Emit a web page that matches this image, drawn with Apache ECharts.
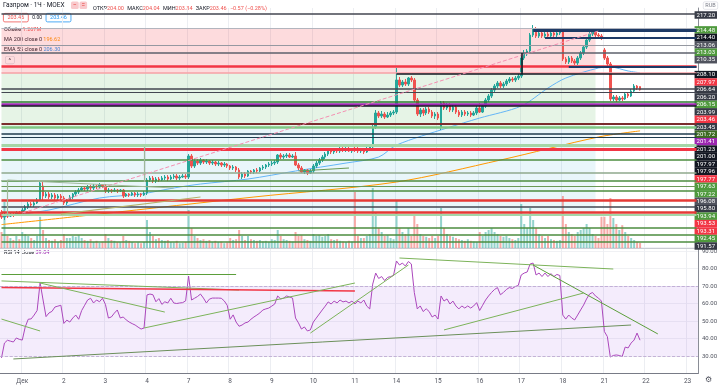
<!DOCTYPE html>
<html><head><meta charset="utf-8">
<script src="https://cdn.jsdelivr.net/npm/echarts@6/dist/echarts.min.js"></script>
<style>html,body{margin:0;padding:0;background:#fff}#c{width:720px;height:388px}</style>
</head><body><div id="c"></div>
<script>
// ---- DATA ----
// candles: [open, close, low, high], hourly bars 30 Nov – 21 Dec
const candles = [
[183.10,182.26,181.93,183.43],[182.26,182.60,181.76,182.93],[182.60,182.43,182.10,182.93],[182.43,182.76,182.26,183.10],[182.76,182.60,182.26,183.10],[182.60,182.93,182.43,183.26],[182.93,182.76,182.43,183.26],
[182.76,183.43,182.60,183.76],[183.43,183.93,183.26,184.26],[183.93,184.43,183.60,184.76],[184.43,184.26,183.93,184.76],[184.26,184.60,183.93,184.93],[184.60,185.10,184.43,185.43],[185.10,187.93,184.93,188.43],[187.43,185.76,185.10,188.10],[185.76,186.10,185.43,186.43],[186.10,185.60,185.26,186.43],[185.60,185.93,185.26,186.26],[185.93,185.43,185.10,186.26],[185.43,185.76,185.10,186.10],[185.76,185.43,185.10,186.10],
[185.43,184.60,184.26,185.76],[184.60,185.10,184.26,185.26],[185.10,185.60,184.93,185.93],[185.60,186.10,185.26,186.26],[186.10,186.43,185.76,186.76],[186.43,186.76,186.10,187.10],[186.76,187.10,186.60,187.43],[187.10,186.93,186.60,187.43],[186.93,187.26,186.60,187.60],[187.26,187.10,186.76,187.60],[187.10,187.43,186.76,187.76],[187.43,187.26,186.93,187.60],[187.26,187.60,186.93,187.93],[187.60,187.43,187.10,187.76],
[187.43,186.60,186.26,187.76],[186.60,186.76,186.26,187.10],[186.76,186.60,186.26,186.93],[186.60,186.76,186.43,187.10],[186.76,186.60,186.26,186.93],[186.60,186.76,186.43,186.93],[186.76,185.76,185.43,186.93],[185.76,186.10,185.60,186.26],[186.10,185.93,185.60,186.26],[185.93,186.26,185.76,186.43],[186.26,185.93,185.60,186.43],[185.93,186.10,185.60,186.43],[186.10,185.93,185.60,186.26],[185.93,186.26,185.76,186.60],
[186.26,188.43,185.93,188.76],[188.43,188.76,188.10,189.10],[188.76,188.26,187.93,189.10],[188.26,188.60,187.93,188.93],[188.60,188.43,188.10,188.93],[188.43,188.76,188.26,189.10],[188.76,188.93,188.43,189.26],[188.93,188.60,188.26,189.26],[188.60,188.93,188.43,189.26],[188.93,189.10,188.60,189.43],[189.10,188.76,188.43,189.43],[188.76,188.93,188.43,189.26],[188.93,189.10,188.76,189.43],[189.10,188.93,188.60,189.43],
[188.93,192.43,188.60,192.76],[192.43,190.76,190.43,192.76],[190.76,191.60,190.43,191.93],[191.60,191.26,190.93,191.93],[191.26,191.76,190.93,192.10],[191.76,191.43,191.10,191.93],[191.43,191.60,191.10,191.93],[191.60,191.26,190.93,191.76],[191.26,191.43,190.93,191.76],[191.43,191.10,190.76,191.60],[191.10,191.26,190.76,191.60],[191.26,190.93,190.60,191.43],[190.93,191.10,190.60,191.43],[191.10,190.76,190.43,191.26],
[190.76,190.43,190.10,190.93],[190.43,190.60,190.10,190.93],[190.60,190.10,189.76,190.76],[190.10,188.93,188.60,190.43],[188.93,189.43,188.60,189.76],[189.43,189.10,188.76,189.76],[189.10,189.93,188.93,190.10],[189.93,189.76,189.43,190.10],[189.76,190.10,189.43,190.26],[190.10,189.93,189.60,190.43],[189.93,190.43,189.76,190.60],[190.43,190.60,190.10,190.93],[190.60,190.93,190.26,191.10],[190.93,191.10,190.60,191.43],
[191.10,191.26,190.76,191.60],[191.26,191.43,190.93,191.76],[191.43,192.60,191.10,192.76],[192.60,192.26,191.93,192.93],[192.26,192.43,191.93,192.76],[192.43,192.60,192.10,192.93],[192.60,192.26,192.10,192.93],[192.26,192.43,192.10,192.76],[192.43,190.93,190.76,193.10],[190.93,190.43,190.10,191.26],[190.43,189.76,189.60,190.76],[189.76,190.10,189.43,190.26],[190.10,189.60,189.26,190.26],[189.60,189.93,189.43,190.26],
[189.93,190.76,189.60,191.10],[190.76,191.26,190.43,191.60],[191.26,191.76,190.93,192.10],[191.76,192.26,191.43,192.60],[192.26,192.76,191.93,193.10],[192.76,193.26,192.43,193.60],[193.26,193.10,192.76,193.60],[193.10,193.43,192.76,193.76],[193.43,193.26,192.93,193.76],[193.26,193.60,192.93,193.93],[193.60,193.43,193.10,193.93],[193.43,193.60,193.10,193.93],[193.60,193.26,193.10,193.93],[193.26,193.60,192.93,193.76],
[193.60,193.43,193.10,193.93],[193.43,193.26,192.93,193.93],[193.26,193.43,192.93,193.76],[193.43,193.10,192.76,193.76],[193.10,193.60,192.93,193.93],[193.60,193.93,193.26,194.26],[193.93,197.26,193.60,197.60],[197.26,199.60,196.93,200.10],[199.60,199.10,198.76,199.93],[199.10,199.43,198.76,199.93],[199.43,198.93,198.60,199.76],[198.93,199.26,198.76,199.76],[199.26,199.60,198.93,199.93],[199.60,199.76,199.26,200.10],
[199.76,205.10,199.43,207.10],[205.10,204.26,203.93,205.60],[204.26,204.76,203.93,205.10],[204.76,204.43,204.10,205.26],[204.43,205.43,204.10,205.60],[205.43,205.10,204.76,205.76],[205.10,201.76,201.43,205.43],[201.76,199.43,199.10,202.10],[199.43,200.10,198.93,200.43],[200.10,199.60,199.10,200.43],[199.60,200.26,199.26,200.60],[200.26,199.76,199.43,200.60],[199.76,199.10,198.76,200.10],[199.10,199.43,198.60,199.76],
[199.43,198.76,198.43,199.76],[197.26,201.26,196.76,201.60],[201.26,200.43,200.10,201.60],[200.43,200.93,200.10,201.26],[200.93,200.10,199.76,201.26],[200.10,200.60,199.76,200.93],[200.60,199.76,199.43,200.93],[199.76,199.26,198.93,200.10],[199.26,199.76,198.93,200.10],[199.76,199.43,199.10,200.10],[199.43,199.60,199.10,199.93],[199.60,199.26,198.93,199.93],[199.26,199.60,199.10,199.93],[199.60,200.43,199.26,200.76],
[200.43,199.76,199.60,201.26],[199.76,200.76,199.60,201.10],[200.76,201.76,200.43,202.10],[201.76,202.43,201.43,202.76],[202.43,203.43,202.10,203.76],[203.43,204.10,203.10,204.43],[204.10,204.60,203.76,204.93],[204.60,204.10,203.76,204.93],[204.10,204.43,203.76,204.76],[204.43,204.93,204.10,205.26],[204.93,205.26,204.60,205.60],[205.26,205.10,204.76,205.60],[205.10,205.43,204.76,205.76],[205.43,205.76,205.10,206.10],
[205.76,208.76,205.43,209.10],[208.76,209.43,208.43,210.10],[209.43,209.93,209.10,210.26],[209.93,212.60,209.60,212.93],[212.60,213.60,212.26,214.26],[213.60,212.43,212.10,213.93],[212.43,212.93,212.10,213.26],[212.93,212.43,212.10,213.26],[212.43,212.76,212.10,213.10],[212.76,212.43,212.10,213.10],[212.43,212.93,212.26,213.26],[212.93,212.60,212.26,213.26],[212.60,212.93,212.26,213.26],[212.93,213.10,212.60,213.43],
[213.10,208.60,208.26,213.43],[208.60,208.10,207.76,208.93],[208.10,208.76,207.76,209.10],[208.76,208.26,207.93,209.10],[208.26,207.93,207.60,208.60],[207.93,208.76,207.60,209.10],[208.76,209.60,208.43,209.93],[209.60,210.60,209.26,210.93],[210.60,211.76,210.26,212.10],[211.76,212.76,211.43,213.26],[212.76,213.10,212.43,213.43],[213.10,212.60,212.26,213.43],[212.60,212.43,212.10,212.93],[212.43,212.10,211.76,212.76],
[210.10,208.76,208.43,210.43],[208.76,207.76,207.43,209.10],[207.76,201.93,201.60,208.10],[201.93,202.26,201.60,202.60],[202.26,201.76,201.43,202.60],[201.76,202.10,201.60,202.43],[202.10,201.93,201.60,202.43],[201.93,202.76,201.76,202.93],[202.76,202.43,202.10,203.10],[202.43,203.26,202.26,203.60],[203.26,204.10,203.10,204.43],[204.10,203.76,203.43,204.26],[204.00,203.46,203.34,204.04]
];
// volume, millions of shares
const volumes = [
4,11.5,3,2.5,2,3,2.2,
4,3.5,3,2.5,2,3,7.8,4.5,2.5,2,1.8,2.2,1.5,2,
3.5,2.5,2.5,3,2.8,3.2,2.5,2,1.8,2.2,1.5,1.8,1.3,1.6,
3.5,2.5,2,1.8,1.5,1.5,3,2,1.8,1.5,1.2,1.4,1.2,1.5,
7,4,3,2.2,2.5,2,1.8,2,1.5,1.4,1.8,1.2,1.3,1.5,
9.5,5,3,2.5,2,2.2,1.8,2,1.5,1.8,1.5,1.6,1.2,1.4,
2.5,2,2.2,4.5,3,2,3,2.2,2,1.8,2,1.6,1.8,1.5,
2.2,2,4.5,3,2.2,2,1.8,1.6,4,3,3.2,2.2,2,1.8,
3.5,3,3.2,2.8,3,3.5,2.2,2,2.2,1.8,1.6,1.5,1.8,1.6,
14,3,2.5,2.5,3,3.5,15,9,5,4,3,3.2,2.5,2.2,
12,5,4,3.5,5,3,8,6,3.5,3,2.8,2.5,3,2.5,
3,10,5,3.5,3,2.8,2.5,2.2,2,1.8,2.2,1.8,1.6,1.5,
4,3,4,4.5,5,4,3.5,3,2.8,3,2.5,2.2,2,2.5,
11,6,5,10,7,5,3.5,3,2.5,3,2.2,2,1.8,2,
13,6,4,3.5,3,4,4.5,5,6,5,3.5,3,2.5,7.8,
7.8,6,12.5,7.5,6,4.5,5.7,4,3,2.5,2,1.5,1.267
];
const rsi = [
28.9,37.4,39,38.5,38,40.3,39.5,
39.1,46.6,51,51.2,53.4,56,71.9,62,52.5,54.6,55.5,58,58.5,59,
48.6,50.5,49.4,51.7,53.4,51,56,59,62,63,60.3,62,61,63,
59.5,51.7,52.3,54.5,56.3,51.7,52.3,50.6,49.4,48.5,47.7,46.5,45.4,46,
64.9,65.4,65,61,62.8,59.5,61,60.3,63,60.3,60,60.3,60.5,61.5,
75.7,62,63,64,65.4,63.1,60.3,62.5,63.1,63.1,63.1,63,61.5,59,
51,53.5,49.4,47,47.7,48.9,49.4,51,52.3,53.4,54.6,56.3,56.9,57.4,
58.5,59.7,64.3,62.6,63.1,64.3,63.7,63.1,51.7,48.9,45.4,46.6,44.3,44.9,
49.4,51.7,54,56.3,58.5,60.9,59.7,61.4,60.3,62,60.9,61.4,60.3,61.4,
59.7,61.4,60.3,62,58.5,56.9,71.1,77.4,74.3,75.4,73.1,74.9,75.4,76,
84.3,82,83.1,81.4,84,82.6,66.3,56.9,58.6,55.4,57,55.4,52.3,53.4,
51.1,64.3,61.4,62.6,59.7,61.4,58.6,56.9,58.6,57.4,58.6,57.4,58.6,60.5,
56,59,62,64.3,66.3,68,69.1,65,66.3,68,69.1,68.6,69.7,70.3,
76.3,77.4,78,82.6,83.1,76.3,77.4,75.4,77.4,75.4,77.1,75.4,76.6,76,
53.4,51.1,53.4,51.7,50.6,53.4,56.3,59.1,62.6,65.4,66.3,64.3,63.1,61.4,
44,41.1,29.4,30.3,30.6,30.3,29.7,35.1,34.6,37.4,39.1,43.1,39.04
];
const maIdx = [0,33,85,133,168,201,215];
const maVal = [181.0,182.76,185.60,188.10,191.76,195.60,196.62];
const emaIdx = [0,16,33,47,58,67,83,99,116,127,133,150,161,175,184,190,201,205,211,215];
const emaVal = [182.26,183.43,185.43,186.10,187.10,187.76,188.60,189.93,191.26,192.26,194.26,197.10,198.76,200.76,203.76,205.43,207.10,207.26,206.60,206.30];
const dayLabels = ['Дек','2','3','4','7','8','9','10','11','14','15','16','17','18','21','22','23'];
const dayStart = [7,21,35,49,63,77,91,105,119,133,147,161,175,189,203,217,231];
const priceLabels = ['217.20','','214.48','214.40','213.06','213.03','210.35','','208.10','207.97','206.64','206.20','206.15','203.99','203.46','203.45','201.72','201.41','201.23','201.00','197.97','197.96','197.77','197.63','197.22','196.08','195.80','193.94','193.53','193.31','192.45','191.57'];
const priceLabelKinds = ['dk','','gr','bk','dg','gr','dg','','bk','rd','dk','dk','gr','dk','rd','dk','og','pu','bk','bk','bk','bk','rd','gr','gr','dg','dk','gr','rd','rd','gr','dk'];
// horizontal drawings: [price, color, width, fromBar, toBar]
const hLines = [
[216.10,'#434651',1.5,0,234],[213.76,'#b2b5be',1,0,234],[213.43,'#1e3a66',3,179,234],[212.10,'#1e3a66',2,183,234],
[210.93,'#9598a1',1,0,234],[209.60,'#5d606b',1.5,0,234],[207.43,'#f23645',2.5,0,234],[207.26,'#1e3a66',2,191,234],
[206.26,'#f7a1a6',1.5,0,234],[206.10,'#131722',1.5,133,234],[203.60,'#434651',1.5,0,234],[203.10,'#434651',1,0,234],
[201.43,'#2e7d32',1.5,0,234],[201.10,'#9c27b0',2.5,0,234],[200.76,'#131722',1.5,0,234],[197.76,'#7b2d2d',2,0,234],
[197.26,'#81c784',2.5,0,234],[196.10,'#1f3b4d',1.5,0,234],[195.60,'#1f3b4d',1,0,234],[194.26,'#a5d6a7',3,0,234],
[193.60,'#f23645',3,0,234],[191.76,'#4c8c3f',1.5,0,234],[189.60,'#8fa88c',1.5,0,234],[188.26,'#4c8c3f',1.5,0,234],
[187.43,'#6a9955',1,0,234],[186.60,'#4c8c3f',1.5,0,234],[185.10,'#e53935',2.5,0,234],[183.93,'#434651',1.5,0,234],
[183.10,'#e53935',2.5,0,234],[182.60,'#a5d6a7',2,0,234],[180.43,'#4c8c3f',1.5,0,234],[179.26,'#4c8c3f',1.5,0,234],
[178.10,'#4c8c3f',1.5,0,234]
];
// trend drawings: [bar0, price0, bar1, price1, color, width, type]
const trendLines = [
[7,182.93,201,213.26,'#f48fb1',1,'dashed'],[0,188.43,26,188.43,'#9fb89a',1.2,'solid'],
[2,188.43,58,187.10,'#9fb89a',1.2,'solid'],[2,188.43,2,182.60,'#9fb89a',1.2,'solid'],
[48,193.93,48,188.10,'#9fb89a',1.2,'solid'],[20,182.76,67,185.60,'#b5b06a',1.2,'solid'],
[100,189.93,117,190.43,'#6a9955',1.2,'solid'],[175,209.60,175,206.10,'#131722',1.5,'solid']
];
// zones: [bar0, priceTop, bar1, priceBottom, color]
const zones = [
[0,213.76,200,206.26,'rgba(242,54,69,0.18)'],
[0,206.26,200,197.26,'rgba(76,175,80,0.14)'],
[0,197.26,200,183.10,'rgba(0,150,200,0.085)']
];
// RSI drawings: [bar0, v0, bar1, v1, color, width]
const rsiLines = [
[0,76.9,79,76.9,'#5b9e3a',1],[0,72.9,80,67.7,'#7cb35a',1],[0,69.1,119,67.1,'#f23645',1.5],
[13,71.7,55,55.1,'#7cb35a',1],[0,51.1,13,44.3,'#7cb35a',1],[4,28.3,212,47.7,'#6b8f5a',1],
[48,46,119,71.7,'#7cb35a',1],[104,43.1,137,82,'#7cb35a',1],[134,86,206,79.7,'#7cb35a',1],
[179,82,221,42.6,'#5b9e3a',1],[149,44.9,196,66,'#7cb35a',1]
];
const N = 235;

// ---- CHART ----
const cats = Array.from({length:N},(_,i)=>String(i));
const chart = echarts.init(document.getElementById('c'));
const F = 'Roboto';
const labelColors = {dk:'#363a45',gr:'#4f9a3d',bk:'#131722',dg:'#50535e',rd:'#f23645',og:'#3d6b22',pu:'#9c27b0'};
const rich = {};
Object.keys(labelColors).forEach(k=>{rich[k]={color:'#fff',backgroundColor:labelColors[k],padding:[1,2,0.5,2],fontSize:6,fontFamily:F,lineHeight:7};});
const dayLine = {show:true, interval:(i)=>dayStart.includes(i), lineStyle:{color:'#eceef2',width:1}};
const up = '#26a69a', dn = '#ef5350';

chart.setOption({
  animation:false,
  textStyle:{fontFamily:F},
  grid:[
    {left:0,right:22,top:8,height:240},
    {left:0,right:22,top:178,height:70},
    {left:0,right:22,top:247.5,height:126},
    {left:0,right:22,top:15,height:231}
  ],
  xAxis:[
    {type:'category',gridIndex:0,data:cats,boundaryGap:true,axisLine:{show:true,lineStyle:{color:'#c9cbd2'}},axisTick:{show:false},axisLabel:{show:false},splitLine:dayLine},
    {type:'category',gridIndex:1,data:cats,boundaryGap:true,show:false},
    {type:'category',gridIndex:2,data:cats,boundaryGap:true,axisLine:{show:true,lineStyle:{color:'#787b86'}},axisTick:{show:false},
      axisLabel:{interval:(i)=>dayStart.includes(i),formatter:(v,i)=>dayLabels[dayStart.indexOf(i)]||'',fontSize:6.5,color:'#50535e',margin:4},splitLine:dayLine},
    {type:'value',gridIndex:3,show:false}
  ],
  yAxis:[
    {type:'value',gridIndex:0,min:177.1,max:217.1,position:'right',axisLine:{show:true,lineStyle:{color:'#8a8d96'}},axisTick:{show:false},axisLabel:{show:false},splitLine:{show:false}},
    {type:'value',gridIndex:1,min:0,max:17.5,show:false},
    {type:'value',gridIndex:2,min:20,max:92,interval:10,position:'right',axisLine:{show:true,lineStyle:{color:'#8a8d96'}},axisTick:{show:false},
      axisLabel:{fontSize:6,color:'#50535e',margin:4,formatter:(v)=>(v>=30&&v<=90&&v%10===0)?v.toFixed(2):''},splitLine:{show:true,lineStyle:{color:'#f0f1f4'}}},
    {type:'category',gridIndex:3,data:priceLabels.map((_,i)=>String(i)),inverse:true,boundaryGap:false,position:'right',axisLine:{show:false},axisTick:{show:false},
      axisLabel:{interval:0,margin:1,formatter:(v,i)=>priceLabelKinds[i]?('{'+priceLabelKinds[i]+'|'+priceLabels[i]+'}'):'',rich:rich}}
  ],
  series:[
    {type:'line',xAxisIndex:0,yAxisIndex:0,data:[],silent:true,z:0,
      markArea:{silent:true,data:zones.map(z=>[{coord:[z[0],z[1]],itemStyle:{color:z[4]}},{coord:[z[2],z[3]]}])}},
    {type:'line',xAxisIndex:0,yAxisIndex:0,data:[],silent:true,z:1,
      markLine:{silent:true,symbol:['none','none'],label:{show:false},
        data:hLines.map(h=>[{coord:[h[3],h[0]],lineStyle:{color:h[1],width:h[2],type:'solid'}},{coord:[h[4],h[0]]}])
          .concat(trendLines.map(t=>[{coord:[t[0],t[1]],lineStyle:{color:t[4],width:t[5],type:t[6]}},{coord:[t[2],t[3]]}]))}},
    {type:'bar',xAxisIndex:1,yAxisIndex:1,barWidth:2,z:2,silent:true,
      data:volumes.map((v,i)=>({value:v,itemStyle:{color:candles[i][1]>=candles[i][0]?'rgba(38,166,154,0.5)':'rgba(239,83,80,0.5)'}}))},
    {type:'line',xAxisIndex:0,yAxisIndex:0,data:maIdx.map((x,i)=>[x,maVal[i]]),showSymbol:false,smooth:0.3,z:3,lineStyle:{color:'#ff9800',width:1}},
    {type:'line',xAxisIndex:0,yAxisIndex:0,data:emaIdx.map((x,i)=>[x,emaVal[i]]),showSymbol:false,smooth:0.3,z:3,lineStyle:{color:'#64b5f6',width:1}},
    {type:'candlestick',xAxisIndex:0,yAxisIndex:0,data:candles,barWidth:2,z:4,
      itemStyle:{color:up,color0:dn,borderColor:up,borderColor0:dn,borderWidth:1}},
    {type:'line',xAxisIndex:2,yAxisIndex:2,data:rsi,showSymbol:false,z:4,lineStyle:{color:'#ab47bc',width:1},
      markArea:{silent:true,data:[[{yAxis:30,itemStyle:{color:'rgba(156,80,230,0.11)'}},{yAxis:70}]]},
      markLine:{silent:true,symbol:['none','none'],label:{show:false},
        data:[{yAxis:70,lineStyle:{color:'#b9a3cf',type:'dashed',width:0.8}},{yAxis:30,lineStyle:{color:'#b9a3cf',type:'dashed',width:0.8}}]
          .concat(rsiLines.map(t=>[{coord:[t[0],t[1]],lineStyle:{color:t[4],width:t[5],type:'solid'}},{coord:[t[2],t[3]]}]))}},
    {type:'scatter',xAxisIndex:3,yAxisIndex:3,data:[]}
  ],
  graphic:[
    {type:'text',left:3,top:2,style:{text:'Газпром · 1Ч · MOEX',fontSize:6.5,fill:'#131722',fontFamily:F}},
    {type:'text',left:71,top:1.5,style:{text:'{b|−}{s| }{b|=}',rich:{b:{backgroundColor:'#f9c9cc',fill:'#e53935',padding:[0.5,2,0,2],borderRadius:1.5,fontSize:6.5,fontFamily:F},s:{fontSize:3}}}},
    {type:'text',left:93,top:2.5,style:{text:'{l|ОТКР}{v|204.00} {l|МАКС}{v|204.04} {l|МИН}{v|203.34} {l|ЗАКР}{v|203.46} {v|−0.57 (−0.28%)}',
      rich:{l:{fill:'#131722',fontSize:5.5,fontFamily:F},v:{fill:'#ef5350',fontSize:5.5,fontFamily:F}}}},
    {type:'text',left:3,top:13,style:{text:'{r|203.46}{s| }{z|0.00}{s| }{b|203.46}',
      rich:{r:{fill:'#ef5350',borderColor:'#ef5350',borderWidth:0.8,borderRadius:1.5,padding:[1.5,4,1,4],fontSize:5.5,fontFamily:F},
            z:{fill:'#131722',fontSize:5,fontFamily:F},s:{fontSize:5,width:4},
            b:{fill:'#2196f3',borderColor:'#2196f3',borderWidth:0.8,borderRadius:1.5,padding:[1.5,4,1,4],fontSize:5.5,fontFamily:F}}}},
    {type:'text',left:4,top:27,style:{text:'{l|Объём }{v|1.267M}',rich:{l:{fill:'#131722',fontSize:5.5,fontFamily:F},v:{fill:'#ef5350',fontSize:5.5,fontFamily:F}}}},
    {type:'text',left:4,top:37,style:{text:'{l|MA 200 close 0 }{v|196.62}',rich:{l:{fill:'#131722',fontSize:5.5,fontFamily:F},v:{fill:'#ff9800',fontSize:5.5,fontFamily:F}}}},
    {type:'text',left:4,top:47,style:{text:'{l|EMA 55 close 0 }{v|206.30}',rich:{l:{fill:'#131722',fontSize:5.5,fontFamily:F},v:{fill:'#2196f3',fontSize:5.5,fontFamily:F}}}},
    {type:'text',left:5,top:56,style:{text:'{k|^}',rich:{k:{fill:'#131722',backgroundColor:'#fff',borderColor:'#d1d4dc',borderWidth:0.6,borderRadius:1.5,padding:[1,3,0,3],fontSize:6,fontFamily:F}}}},
    {type:'text',left:4,top:250,style:{text:'{l|RSI 14 close }{v|39.04}',rich:{l:{fill:'#131722',fontSize:5.5,fontFamily:F},v:{fill:'#9c27b0',fontSize:5.5,fontFamily:F}}}},
    {type:'text',left:703,top:1.5,style:{text:'{k|RUB}',rich:{k:{fill:'#787b86',borderColor:'#d1d4dc',borderWidth:0.6,borderRadius:1.5,padding:[1,2,0.5,2],fontSize:5.5,fontFamily:F}}}},
    {type:'text',left:705,top:376,style:{text:'⚙',fontSize:8,fill:'#50535e',fontFamily:'DejaVu Sans'}}
  ]
});
</script>
</body></html>
